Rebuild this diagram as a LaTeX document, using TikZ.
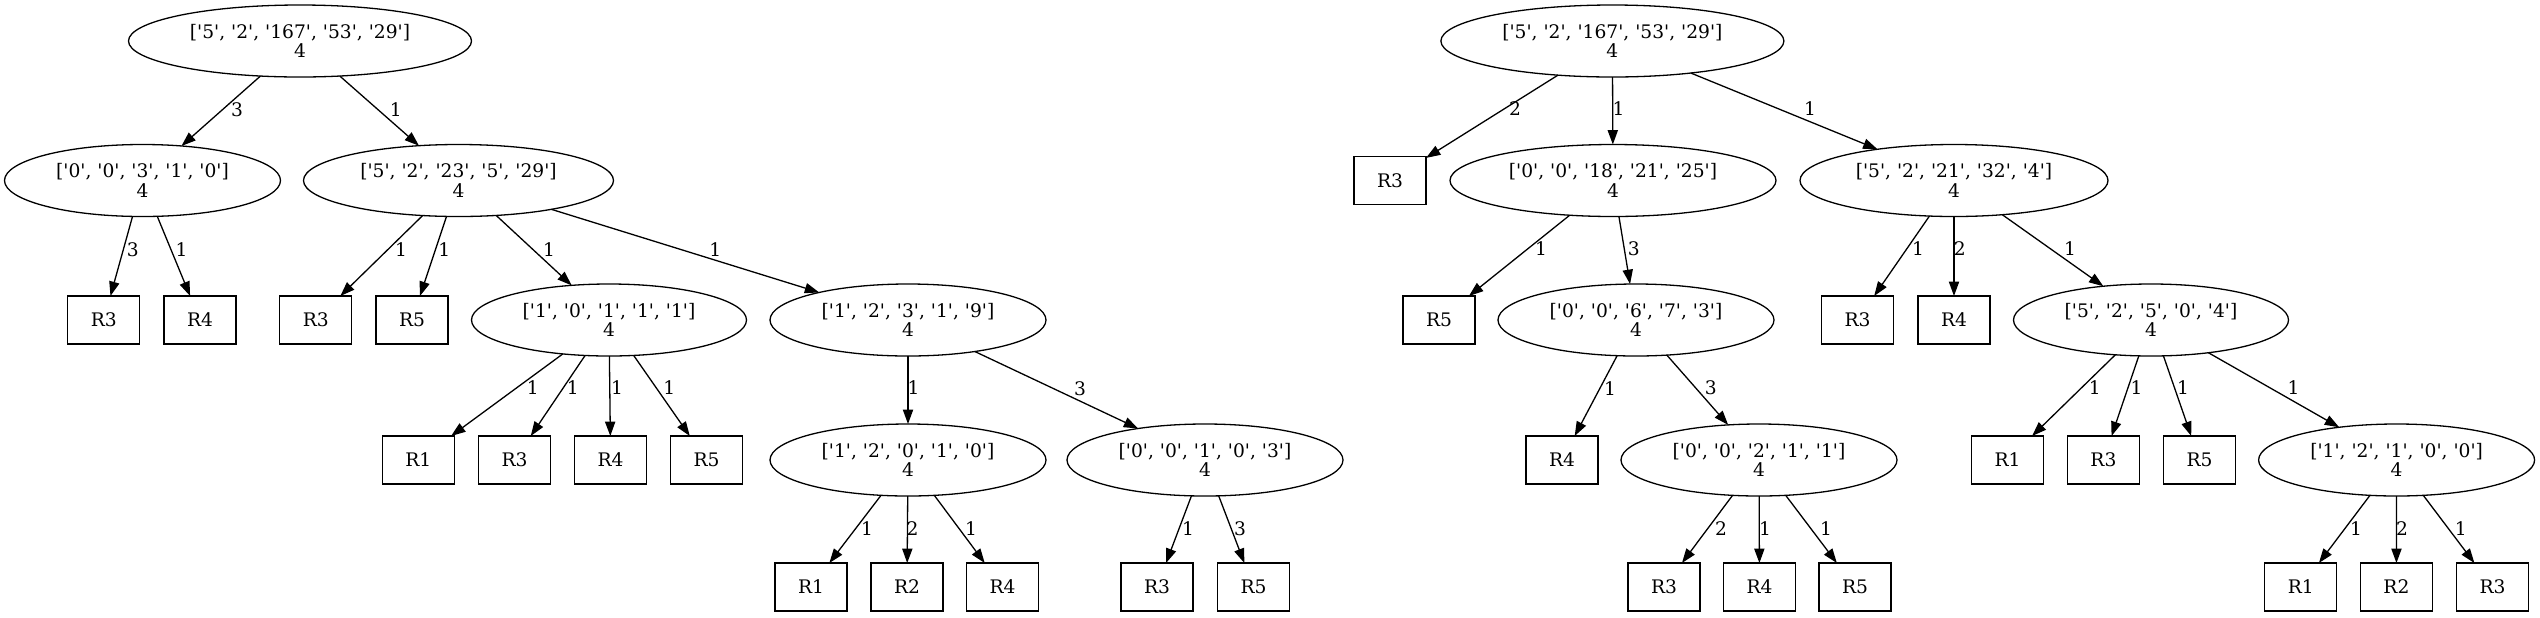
\documentclass[tikz,border=0pt]{standalone}
\usepackage{fontspec}
\setmainfont{DejaVu Serif}[Ligatures=TeXOff]
\usetikzlibrary{arrows.meta,shapes.geometric}
\begin{document}
\begin{tikzpicture}[x=0.5pt,y=-0.5pt,
  every node/.style={font=\fontsize{9.33}{9.7}\selectfont, inner sep=0pt, outer sep=0pt},
  ell/.style={draw, ellipse, line width=0.65pt, minimum height=36pt, align=center},
  leaf/.style={draw, rectangle, line width=0.65pt, minimum width=36pt, minimum height=24pt},
  edge/.style={line width=0.65pt, -{Triangle[length=7.2pt,width=5.1pt]}},
  lab/.style={anchor=center}]
\useasboundingbox (0,0) rectangle (2540,617);
% ---------- left tree ----------
\node[ell, minimum width=171.5pt] (A) at (300,41) {['5', '2', '167', '53', '29']\\4};
\node[ell, minimum width=138pt] (B) at (142.5,180.5) {['0', '0', '3', '1', '0']\\4};
\node[ell, minimum width=155pt] (C) at (458.5,180.5) {['5', '2', '23', '5', '29']\\4};
\node[leaf] (B1) at (103.8,320) {R3};
\node[leaf] (B2) at (200,320) {R4};
\node[leaf] (C1) at (315.8,320) {R3};
\node[leaf] (C2) at (412,320) {R5};
\node[ell, minimum width=137.5pt] (D) at (609,320) {['1', '0', '1', '1', '1']\\4};
\node[ell, minimum width=138pt] (E) at (908,320) {['1', '2', '3', '1', '9']\\4};
\node[leaf] (D1) at (418.4,460) {R1};
\node[leaf] (D2) at (514.6,460) {R3};
\node[leaf] (D3) at (610.6,460) {R4};
\node[leaf] (D4) at (706.5,460) {R5};
\node[ell, minimum width=138pt] (F) at (908,460) {['1', '2', '0', '1', '0']\\4};
\node[ell, minimum width=138pt] (G) at (1205,460) {['0', '0', '1', '0', '3']\\4};
\node[leaf] (F1) at (811,587) {R1};
\node[leaf] (F2) at (907,587) {R2};
\node[leaf] (F3) at (1002.6,587) {R4};
\node[leaf] (G1) at (1157,587) {R3};
\node[leaf] (G2) at (1253.5,587) {R5};
\draw[edge] (A) -- (B) node[lab] at (237,110) {3};
\draw[edge] (A) -- (C) node[lab] at (395.7,110) {1};
\draw[edge] (B) -- (B1) node[lab] at (132.8,250) {3};
\draw[edge] (B) -- (B2) node[lab] at (181.6,250) {1};
\draw[edge] (C) -- (C1) node[lab] at (401,250) {1};
\draw[edge] (C) -- (C2) node[lab] at (444.4,250) {1};
\draw[edge] (C) -- (D) node[lab] at (549,250) {1};
\draw[edge] (C) -- (E) node[lab] at (715.4,250) {1};
\draw[edge] (D) -- (D1) node[lab] at (532.8,388) {1};
\draw[edge] (D) -- (D2) node[lab] at (572.9,388) {1};
\draw[edge] (D) -- (D3) node[lab] at (617,388) {1};
\draw[edge] (D) -- (D4) node[lab] at (669.4,388) {1};
\draw[edge] (E) -- (F) node[lab] at (913.5,388) {1};
\draw[edge] (E) -- (G) node[lab] at (1080,389) {3};
\draw[edge] (F) -- (F1) node[lab] at (867,529) {1};
\draw[edge] (F) -- (F2) node[lab] at (912.5,529) {2};
\draw[edge] (F) -- (F3) node[lab] at (971,529) {1};
\draw[edge] (G) -- (G1) node[lab] at (1188,529) {1};
\draw[edge] (G) -- (G2) node[lab] at (1240,529) {3};
% ---------- right tree ----------
\node[ell, minimum width=171.5pt] (H) at (1612.4,41) {['5', '2', '167', '53', '29']\\4};
\node[leaf] (H1) at (1390,180.5) {R3};
\node[ell, minimum width=163pt] (I) at (1613,180.5) {['0', '0', '18', '21', '25']\\4};
\node[ell, minimum width=154pt] (J) at (1954,180.5) {['5', '2', '21', '32', '4']\\4};
\node[leaf] (I1) at (1439,320) {R5};
\node[ell, minimum width=138pt] (K) at (1636,320) {['0', '0', '6', '7', '3']\\4};
\node[leaf] (J1) at (1857.6,320) {R3};
\node[leaf] (J2) at (1954,320) {R4};
\node[ell, minimum width=137.5pt] (L) at (2151,320) {['5', '2', '5', '0', '4']\\4};
\node[leaf] (K1) at (1562,460) {R4};
\node[ell, minimum width=138pt] (N) at (1759,460) {['0', '0', '2', '1', '1']\\4};
\node[leaf] (L1) at (2007.5,460) {R1};
\node[leaf] (L2) at (2103.4,460) {R3};
\node[leaf] (L3) at (2199.5,460) {R5};
\node[ell, minimum width=138pt] (M) at (2396.6,460) {['1', '2', '1', '0', '0']\\4};
\node[leaf] (N1) at (1664,587) {R3};
\node[leaf] (N2) at (1759.5,587) {R4};
\node[leaf] (N3) at (1855,587) {R5};
\node[leaf] (M1) at (2300.8,587) {R1};
\node[leaf] (M2) at (2396.4,587) {R2};
\node[leaf] (M3) at (2492.5,587) {R3};
\draw[edge] (H) -- (H1) node[lab] at (1515,109) {2};
\draw[edge] (H) -- (I) node[lab] at (1618.5,109) {1};
\draw[edge] (H) -- (J) node[lab] at (1810,109) {1};
\draw[edge] (I) -- (I1) node[lab] at (1541,249) {1};
\draw[edge] (I) -- (K) node[lab] at (1633.7,249) {3};
\draw[edge] (J) -- (J1) node[lab] at (1918,249) {1};
\draw[edge] (J) -- (J2) node[lab] at (1959.7,249) {2};
\draw[edge] (J) -- (L) node[lab] at (2070,249) {1};
\draw[edge] (K) -- (K1) node[lab] at (1610,389) {1};
\draw[edge] (K) -- (N) node[lab] at (1710.7,388) {3};
\draw[edge] (L) -- (L1) node[lab] at (2094.8,388) {1};
\draw[edge] (L) -- (L2) node[lab] at (2136.6,388) {1};
\draw[edge] (L) -- (L3) node[lab] at (2183,388) {1};
\draw[edge] (L) -- (M) node[lab] at (2293.6,388) {1};
\draw[edge] (N) -- (N1) node[lab] at (1721,529) {2};
\draw[edge] (N) -- (N2) node[lab] at (1765,529) {1};
\draw[edge] (N) -- (N3) node[lab] at (1826,529) {1};
\draw[edge] (M) -- (M1) node[lab] at (2356,529) {1};
\draw[edge] (M) -- (M2) node[lab] at (2402,529) {2};
\draw[edge] (M) -- (M3) node[lab] at (2460.7,529) {1};
\end{tikzpicture}
\end{document}
